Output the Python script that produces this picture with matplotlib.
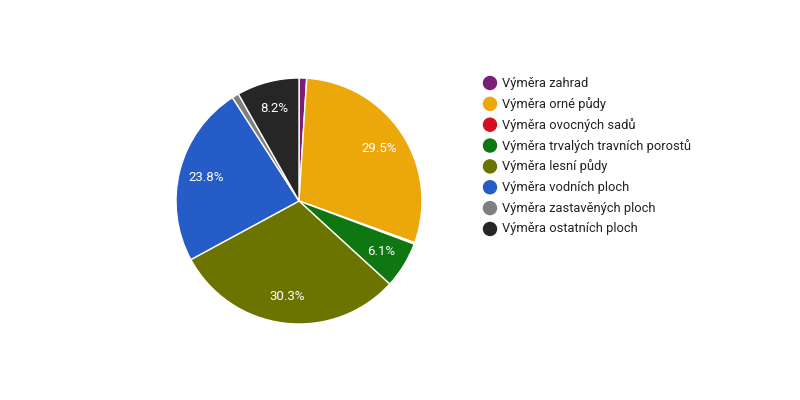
import matplotlib
matplotlib.use("Agg")
import matplotlib.pyplot as plt

plt.rcParams['font.family'] = ['Roboto', 'DejaVu Sans']

categories = ["Výměra zahrad", "Výměra orné půdy", "Výměra ovocných sadů",
              "Výměra trvalých travních porostů", "Výměra lesní půdy",
              "Výměra vodních ploch", "Výměra zastavěných ploch",
              "Výměra ostatních ploch"]
values = [1.0, 29.5, 0.2, 6.1, 30.3, 23.8, 0.9, 8.2]
colors = ["#7B1F75", "#ECA80B", "#D40F22", "#0E7711", "#6C7400",
          "#265CC7", "#7F7F7F", "#262626"]

fig = plt.figure(figsize=(8, 4), dpi=100)
cx, cy, r = 299, 201, 123
ax = fig.add_axes([(cx - r) / 800, (400 - cy - r) / 400, 2 * r / 800, 2 * r / 400])

def fmt(p):
    return f"{p:.1f}%" if p >= 5 else ""

wedges, texts, autotexts = ax.pie(values, colors=colors, startangle=90,
                                  counterclock=False, autopct=fmt,
                                  pctdistance=0.78,
                                  wedgeprops=dict(edgecolor="white", linewidth=1),
                                  textprops=dict(color="white", fontsize=9.5))
ax.set_xlim(-1, 1)
ax.set_ylim(-1, 1)
ax.set_aspect('equal')
ax.axis('off')

y0 = 83
dy = 20.85
for i, (c, col) in enumerate(zip(categories, colors)):
    y = y0 + i * dy
    fig.patches.append(matplotlib.patches.Ellipse((490 / 800, 1 - y / 400), 13 / 800, 13 / 400,
                                                  transform=fig.transFigure, color=col))
    fig.text(502 / 800, 1 - y / 400, c, fontsize=9.3, va='center', ha='left', color="#222222")

fig.savefig("out.png", dpi=100)
